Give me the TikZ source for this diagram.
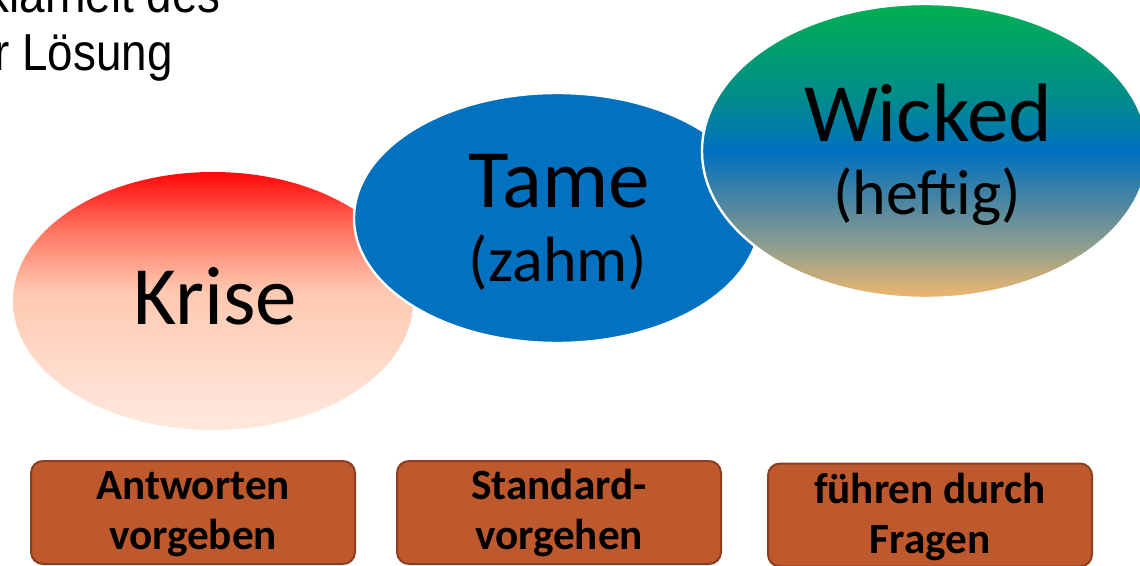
\documentclass[tikz,border=0pt]{standalone}
\usepackage{fontspec}
\setmainfont{Carlito}
\newfontfamily\arialfont{Liberation Sans}
\usetikzlibrary{shapes.geometric}

\definecolor{kred}{RGB}{255,8,8}
\definecolor{kred2}{RGB}{255,45,40}
\definecolor{ksal}{RGB}{255,115,95}
\definecolor{kpeach}{RGB}{255,200,176}
\definecolor{klight}{RGB}{255,216,198}
\definecolor{kbot}{RGB}{255,232,222}
\definecolor{tameblue}{RGB}{1,113,192}
\definecolor{wgreen}{RGB}{0,176,80}
\definecolor{wteal}{RGB}{0,140,140}
\definecolor{wblue}{RGB}{0,112,192}
\definecolor{wsteel}{RGB}{70,132,162}
\definecolor{wgray}{RGB}{150,160,140}
\definecolor{worange}{RGB}{240,182,110}
\definecolor{boxfill}{RGB}{190,88,45}
\definecolor{boxline}{RGB}{140,62,30}

% vertical shadings: 25bp = bottom of the shape, 75bp = top
\pgfdeclareverticalshading{kriseshade}{100bp}{color(0bp)=(kbot); color(25bp)=(kbot);
  color(40bp)=(klight); color(52bp)=(kpeach); color(64bp)=(ksal);
  color(71bp)=(kred2); color(75bp)=(kred); color(100bp)=(kred)}
\pgfdeclareverticalshading{wickedshade}{100bp}{color(0bp)=(worange); color(25bp)=(worange);
  color(33bp)=(wgray); color(42bp)=(wsteel); color(50bp)=(wblue);
  color(59bp)=(wteal); color(75bp)=(wgreen); color(100bp)=(wgreen)}

\newcommand{\narrowtext}[1]{\scalebox{0.88}[1]{#1}}

\tikzset{
  blob/.style={ellipse, inner sep=0pt},
  rim/.style={draw=white, line width=1.2pt},
  bigword/.style={font=\fontsize{41.5}{48}\selectfont, inner sep=0pt, anchor=base},
  smallword/.style={font=\fontsize{32}{38}\selectfont, inner sep=0pt, anchor=base},
  actbox/.style={draw=boxline, line width=1pt, fill=boxfill, rounded corners=6pt,
    minimum width=162pt, minimum height=51.5pt, inner sep=0pt},
  acttext/.style={font=\bfseries\fontsize{21.6}{25}\selectfont, align=center, inner sep=0pt, anchor=base},
  cornertext/.style={font=\arialfont\fontsize{26}{30}\selectfont, inner sep=0pt, anchor=base east}
}

\begin{document}
\begin{tikzpicture}[x=0.5pt, y=-0.5pt]
  \useasboundingbox (0,0) rectangle (1140,566);
  \clip (0,0) rectangle (1140,566);

  % heading remnant in the upper left corner
  \node[cornertext] (h1) at (221,13) {\narrowtext{klarheit des}};
  \node[cornertext] (h2) at (173,71) {\narrowtext{r Lösung}};

  % the three problem types
  \node[blob, shading=kriseshade, minimum width=400pt/2, minimum height=258pt/2] (krise) at (213,301) {};
  \node[blob, rim, fill=tameblue, minimum width=406pt/2, minimum height=250pt/2] (tame) at (557,218) {};
  \node[blob, rim, shading=wickedshade, minimum width=446pt/2, minimum height=294pt/2] (wicked) at (925,151) {};

  \node[bigword] (tkrise) at (215,325) {Krise};
  \node[bigword] (ttame) at (559,208) {Tame};
  \node[smallword] (tzahm) at (558,282) {(zahm)};
  \node[bigword] (twicked) at (928,142) {Wicked};
  \node[smallword] (theftig) at (927,215) {(heftig)};

  % what leadership does in each case
  \node[actbox] (b1) at (193,512.5) {};
  \node[actbox] (b2) at (559,512.5) {};
  \node[actbox] (b3) at (930,515) {};

  % a multi-line node sits on the baseline of its last line
  \node[acttext] (a1) at (193,549) {Antworten\\vorgeben};
  \node[acttext] (a2) at (559,549) {Standard-\\vorgehen};
  \node[acttext] (a3) at (930,553) {führen durch\\Fragen};
\end{tikzpicture}
\end{document}
